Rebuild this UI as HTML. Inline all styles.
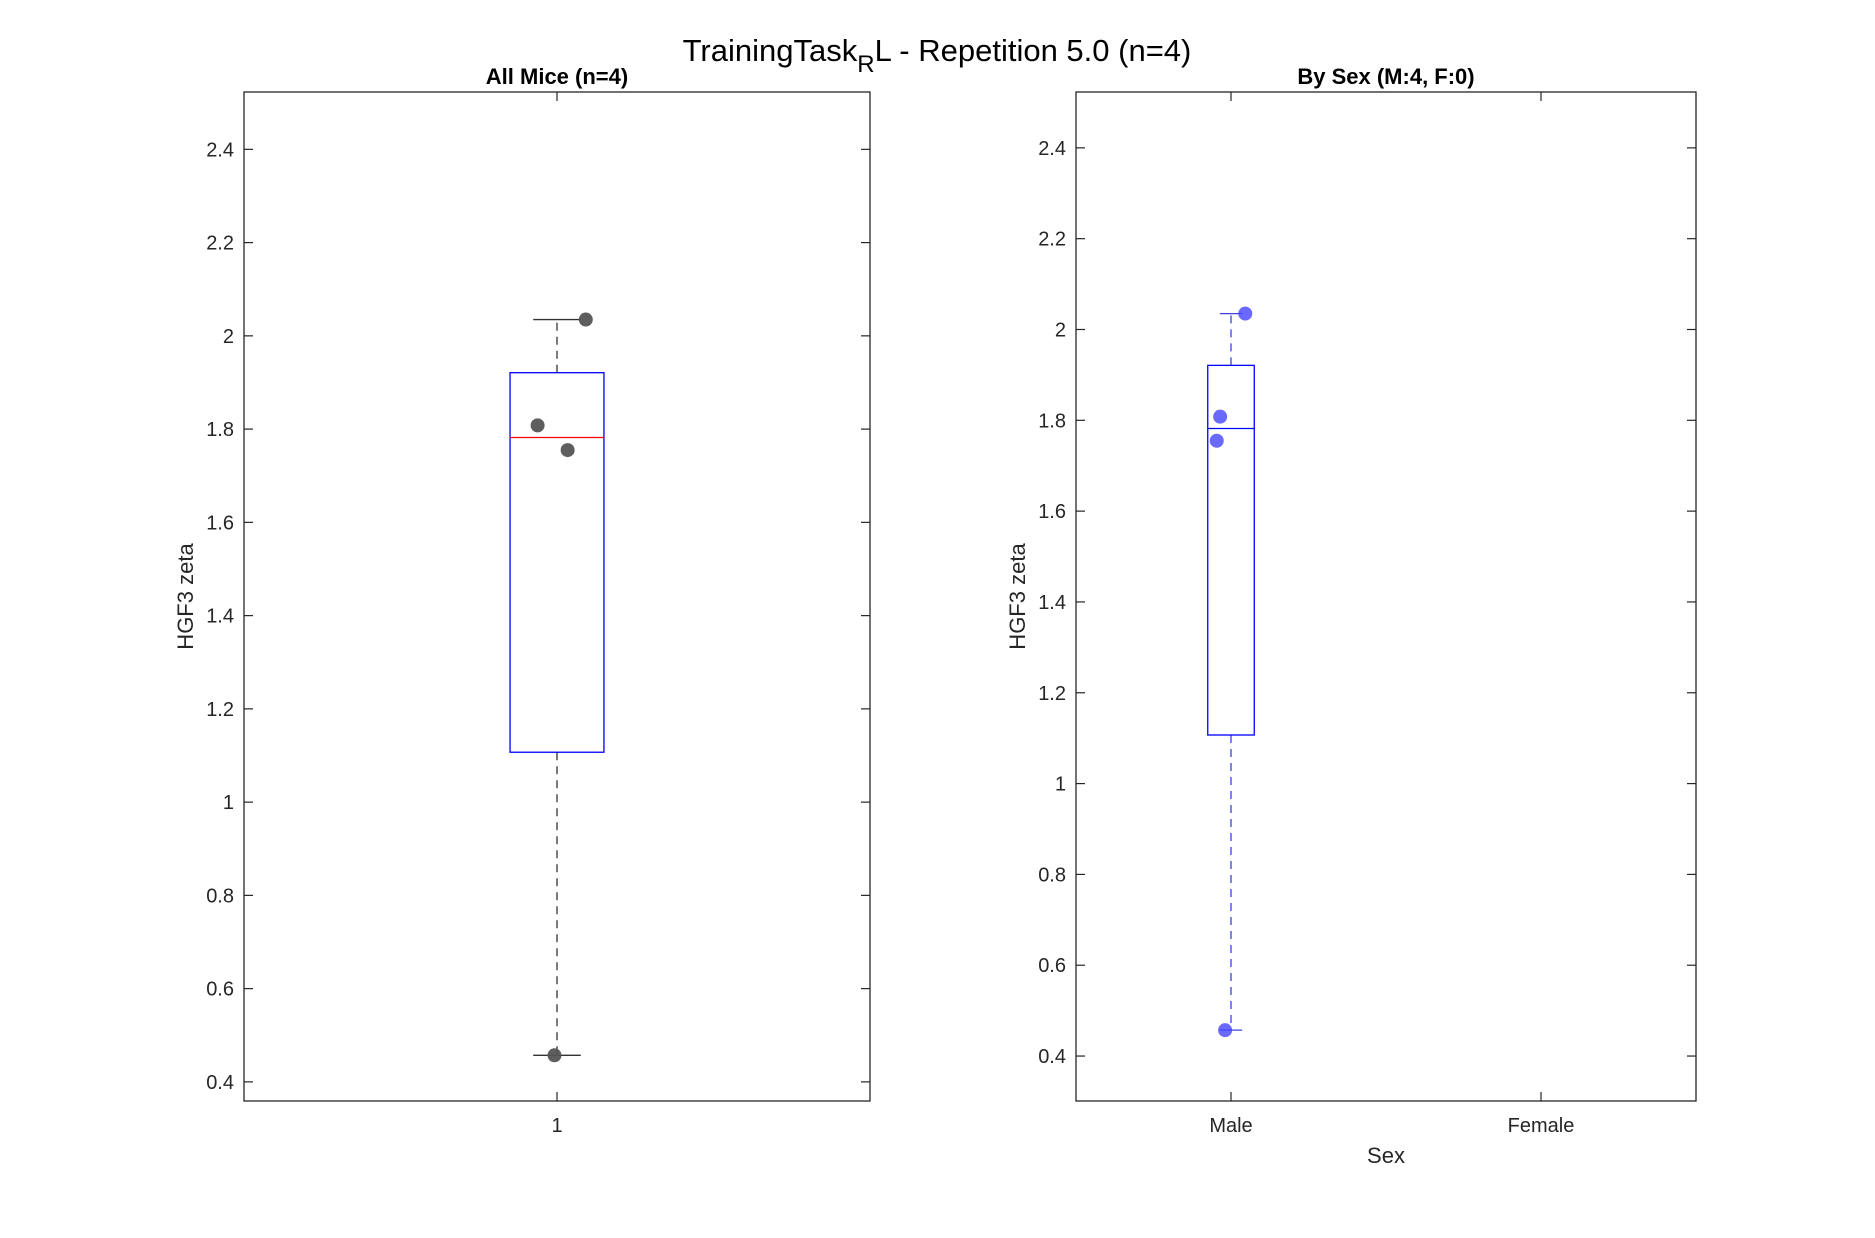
<!DOCTYPE html>
<html><head><meta charset="utf-8"><style>
html,body{margin:0;padding:0;background:#fff;}
svg{display:block;font-family:"Liberation Sans",Arial,sans-serif;}
</style></head><body>
<svg id="chart" width="1875" height="1238" viewBox="0 0 1875 1238" xmlns="http://www.w3.org/2000/svg">
<rect x="0" y="0" width="1875" height="1238" fill="#fff"/>
<text x="937" y="61" font-size="31" text-anchor="middle" fill="#000">TrainingTask<tspan font-size="24" dy="11">R</tspan><tspan dy="-11">L - Repetition 5.0 (n=4)</tspan></text>
<g id="p1"></g><g id="p2"></g>
</svg>
<script>
// ---- data ----
const yTicks = [0.4,0.6,0.8,1,1.2,1.4,1.6,1.8,2,2.2,2.4];
const yTickLabels = ['0.4','0.6','0.8','1','1.2','1.4','1.6','1.8','2','2.2','2.4'];
const allCategories = ['1'];
const allBox = [1.107, 1.782, 1.921]; // q1, median, q3
const allWhisker = [0.457, 2.035];
const allPoints = [2.035, 1.808, 1.755, 0.457];
const allJitter = [0.046, -0.031, 0.017, -0.004];
const sexCategories = ['Male','Female'];
const maleBox = [1.107, 1.782, 1.921];
const maleWhisker = [0.457, 2.035];
const malePoints = [2.035, 1.808, 1.755, 0.457];
const maleJitter = [0.046, -0.035, -0.046, -0.019];

const NS='http://www.w3.org/2000/svg';
function mk(parent, tag, attrs, text){
  const e=document.createElementNS(NS,tag);
  for(const k in attrs) e.setAttribute(k,attrs[k]);
  if(text!==undefined) e.textContent=text;
  parent.appendChild(e); return e;
}
function panel(g, o){
  const sx=v=>o.x0+(v-o.xmin)/(o.xmax-o.xmin)*(o.x1-o.x0);
  const sy=v=>o.y1-(v-o.ymin)/(o.ymax-o.ymin)*(o.y1-o.y0);
  const ax=mk(g,'rect',{x:o.x0,y:o.y0,width:o.x1-o.x0,height:o.y1-o.y0,fill:'none',stroke:'#262626','stroke-width':1.3});
  
  
  yTicks.forEach((t,i)=>{
    const y=sy(t);
    if(y<o.y0||y>o.y1) return;
    mk(g,'line',{x1:o.x0,x2:o.x0+9,y1:y,y2:y,stroke:'#262626','stroke-width':1.2});
    mk(g,'line',{x1:o.x1,x2:o.x1-9,y1:y,y2:y,stroke:'#262626','stroke-width':1.2});
    const tl=mk(g,'text',{x:o.x0-10,y:y+7,'font-size':20,'text-anchor':'end',fill:'#262626'},yTickLabels[i]);
    
    
  });
  o.cats.forEach((c,i)=>{
    const x=sx(i+1);
    mk(g,'line',{x1:x,x2:x,y1:o.y1,y2:o.y1-9,stroke:'#262626','stroke-width':1.2});
    mk(g,'line',{x1:x,x2:x,y1:o.y0,y2:o.y0+9,stroke:'#262626','stroke-width':1.2});
    const xl=mk(g,'text',{x:x,y:o.y1+31,'font-size':20,'text-anchor':'middle',fill:'#262626'},c);
    
    
  });
  const tt=mk(g,'text',{x:(o.x0+o.x1)/2,y:o.y0-8,'font-size':22,'font-weight':'bold','text-anchor':'middle',fill:'#000'},o.title);
  
  
  const yl=mk(g,'text',{x:0,y:0,'font-size':22,'text-anchor':'middle',fill:'#262626',transform:`translate(${o.ylx},${(o.y0+o.y1)/2}) rotate(-90)`},'HGF3 zeta');
  
  
  if(o.xlabel){
    const xt=mk(g,'text',{x:(o.x0+o.x1)/2,y:o.y1+62,'font-size':22,'text-anchor':'middle',fill:'#262626'},o.xlabel);
    
    
  }
  const cx=sx(1);
  const bw=o.boxHalf*(o.x1-o.x0)/(o.xmax-o.xmin);
  const cw=o.capHalf*(o.x1-o.x0)/(o.xmax-o.xmin);
  mk(g,'line',{x1:cx,x2:cx,y1:sy(o.box[2]),y2:sy(o.wh[1]),stroke:o.whColor,'stroke-width':1.3,'stroke-dasharray':'8,6'});
  mk(g,'line',{x1:cx,x2:cx,y1:sy(o.box[0]),y2:sy(o.wh[0]),stroke:o.whColor,'stroke-width':1.3,'stroke-dasharray':'8,6'});
  mk(g,'line',{x1:cx-cw,x2:cx+cw,y1:sy(o.wh[1]),y2:sy(o.wh[1]),stroke:o.whColor,'stroke-width':1.3});
  mk(g,'line',{x1:cx-cw,x2:cx+cw,y1:sy(o.wh[0]),y2:sy(o.wh[0]),stroke:o.whColor,'stroke-width':1.3});
  const bx=mk(g,'rect',{x:cx-bw,y:sy(o.box[2]),width:2*bw,height:sy(o.box[0])-sy(o.box[2]),fill:'none',stroke:'#0000ff','stroke-width':1.3});
  
  
  const md=mk(g,'line',{x1:cx-bw,x2:cx+bw,y1:sy(o.box[1]),y2:sy(o.box[1]),stroke:o.medColor,'stroke-width':1.3});
  
  
  o.pts.forEach((v,i)=>{
    const p=mk(g,'circle',{cx:sx(1+o.jit[i]),cy:sy(v),r:7,fill:o.ptColor,'fill-opacity':o.ptAlpha});
    
    
  });
}
panel(document.getElementById('p1'),{name:'all-mice',x0:244,x1:870,y0:92,y1:1101,xmin:0.5,xmax:1.5,ymin:0.359,ymax:2.523,
  cats:allCategories,title:'All Mice (n=4)',ylx:193,box:allBox,wh:allWhisker,pts:allPoints,jit:allJitter,
  boxHalf:0.075,capHalf:0.038,whColor:'#333',medColor:'#ff0000',ptColor:'#555',ptAlpha:0.95});
panel(document.getElementById('p2'),{name:'by-sex',x0:1076,x1:1696,y0:92,y1:1101,xmin:0.5,xmax:2.5,ymin:0.301,ymax:2.523,
  cats:sexCategories,title:'By Sex (M:4, F:0)',ylx:1025,xlabel:'Sex',box:maleBox,wh:maleWhisker,pts:malePoints,jit:maleJitter,
  boxHalf:0.075,capHalf:0.036,whColor:'#4040e0',medColor:'#0000ff',ptColor:'#4444ff',ptAlpha:0.8});
</script>
</body></html>
